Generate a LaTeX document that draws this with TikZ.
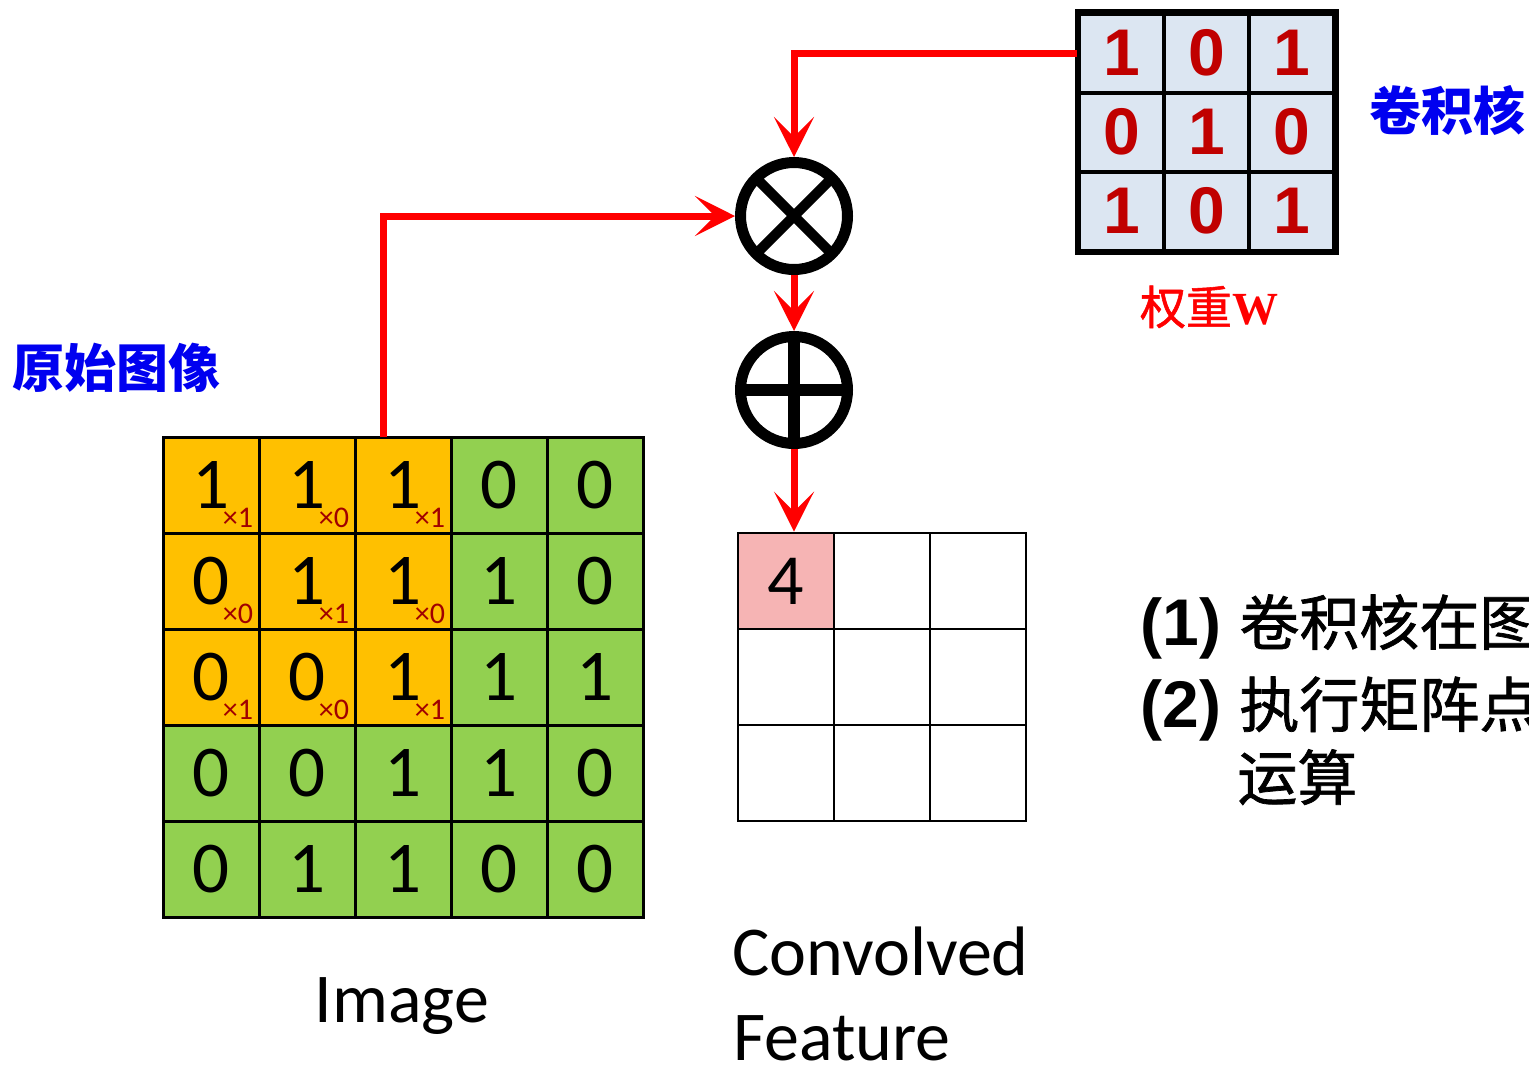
\documentclass[tikz,border=0pt]{standalone}
\usepackage{fontspec}
\setmainfont{Carlito}
\newfontfamily\cjkfont{Noto Sans CJK SC}
\newfontfamily\cjkmid{Noto Sans CJK SC}[FakeBold=1.2]
\newfontfamily\arialfont{Liberation Sans}
\newfontfamily\timesfont{Liberation Serif}
\usetikzlibrary{arrows.meta,calc}
\definecolor{imgorange}{RGB}{255,192,0}
\definecolor{imggreen}{RGB}{146,208,80}
\definecolor{kblue}{RGB}{220,230,242}
\definecolor{kred}{RGB}{192,0,0}
\definecolor{subred}{RGB}{160,0,0}
\definecolor{pinkcell}{RGB}{246,180,180}
\definecolor{labelblue}{RGB}{0,0,240}
\begin{document}
\begin{tikzpicture}[x=0.5pt,y=-0.5pt,
  imgcell/.style={draw=black,line width=1.5pt,minimum size=48pt,inner sep=0pt,
    font=\fontsize{36.5}{36.5}\selectfont},
  subsc/.style={inner sep=0pt,text=subred,font=\fontsize{15}{15}\selectfont},
  convcell/.style={draw=black,line width=1.4pt,minimum size=48pt,inner sep=0pt,fill=white,
    font=\fontsize{36}{36}\selectfont},
  kcell/.style={draw=black,line width=2pt,minimum width=42.5pt,minimum height=39.5pt,inner sep=0pt,
    fill=kblue,text=kred,font=\arialfont\bfseries\fontsize{33}{33}\selectfont},
  opcircle/.style={circle,draw=black,line width=5.5pt,minimum size=53.5pt,inner sep=0pt},
  redarrow/.style={draw=red,line width=3.5pt,-{Stealth[length=20pt,width=20pt,inset=10pt]}},
  cjklabel/.style={inner sep=0pt,font=\cjkfont\bfseries\fontsize{26}{26}\selectfont},
  featlabel/.style={inner sep=0pt,font=\fontsize{35}{35}\selectfont}
]
\useasboundingbox (0,0) rectangle (1529,1067);
\clip (0,0) rectangle (1529,1067);

% image grid
\foreach \row [count=\r] in {{1,1,1,0,0},{0,1,1,1,0},{0,0,1,1,1},{0,0,1,1,0},{0,1,1,0,0}}{
  \foreach \v [count=\c] in \row {
    \ifnum\r<4 \ifnum\c<4 \def\cc{imgorange}\else\def\cc{imggreen}\fi\else\def\cc{imggreen}\fi
    \node[imgcell,fill=\cc] (i-\r-\c) at ({163+96*(\c-0.5)},{437+96*(\r-0.5)}) {\v};
  }
}
\foreach \s [count=\k from 0] in {1,0,1,0,1,0,1,0,1}{
  \pgfmathtruncatemacro\rr{div(\k,3)+1}
  \pgfmathtruncatemacro\ccc{mod(\k,3)+1}
  \node[subsc] (s-\rr-\ccc) at ($(i-\rr-\ccc.center)+(27,33)$) {×\s};
}

% convolved feature grid
\foreach \r in {1,2,3}{
  \foreach \c in {1,2,3}{
    \node[convcell] (c-\r-\c) at ({738+96*(\c-0.5)},{533+96*(\r-0.5)}) {};
  }
}
\node[convcell,fill=pinkcell] (c-1-1) at ({738+48},{533+48}) {4};

% kernel
\foreach \row [count=\r] in {{1,0,1},{0,1,0},{1,0,1}}{
  \foreach \v [count=\c] in \row {
    \node[kcell] (k-\r-\c) at ({1121.5+85*(\c-1)},{53+79*(\r-1)}) {\v};
  }
}
\draw[line width=2.5pt] (k-1-1.north west) rectangle (k-3-3.south east);

% operators
\node[opcircle] (mult) at (794,216) {};
\node[opcircle] (add) at (794,390) {};

% arrows
\coordinate (src) at (383,437);
\draw[redarrow] (k-1-1.west) -| (mult.north);
\draw[redarrow] (src) |- (mult.west);
\draw[redarrow] (mult.south) -- (add.north);
\draw[redarrow] (add.south) -- (add.south |- c-1-1.north);

\draw[line width=5pt] ($(mult.center)+(45:26pt)$) -- ($(mult.center)+(225:26pt)$);
\draw[line width=5pt] ($(mult.center)+(135:26pt)$) -- ($(mult.center)+(315:26pt)$);
\draw[line width=6pt] ($(add.center)+(90:26pt)$) -- ($(add.center)+(270:26pt)$);
\draw[line width=6pt] ($(add.center)+(0:26pt)$) -- ($(add.center)+(180:26pt)$);

% labels
\node[cjklabel,text=labelblue] (lbl-orig) at (116,368) {原始图像};
\node[cjklabel,text=labelblue] (lbl-kernel) at (1447,110) {卷积核};
\node[inner sep=0pt,text=red,font=\cjkmid\fontsize{23}{23}\selectfont] (lbl-w) at (1209,307)
  {权重{\timesfont\bfseries W}};
\node[featlabel,anchor=base] (lbl-image) at (402,1022) {Image};
\node[featlabel,anchor=base west] (lbl-conv) at (732,975) {Convolved};
\node[featlabel,anchor=base west] (lbl-feat) at (733,1060) {Feature};

\node[inner sep=0pt,anchor=base west,font=\cjkmid\fontsize{30}{30}\selectfont] (step1) at (1140,645)
  {{\arialfont\bfseries\fontsize{33}{33}\selectfont (1) }卷积核在图};
\node[inner sep=0pt,anchor=base west,font=\cjkmid\fontsize{30}{30}\selectfont] (step2) at (1140,727)
  {{\arialfont\bfseries\fontsize{33}{33}\selectfont (2) }执行矩阵点};
\node[inner sep=0pt,anchor=base west,font=\cjkmid\fontsize{30}{30}\selectfont] (step3) at (1237,800)
  {运算};
\end{tikzpicture}
\end{document}
